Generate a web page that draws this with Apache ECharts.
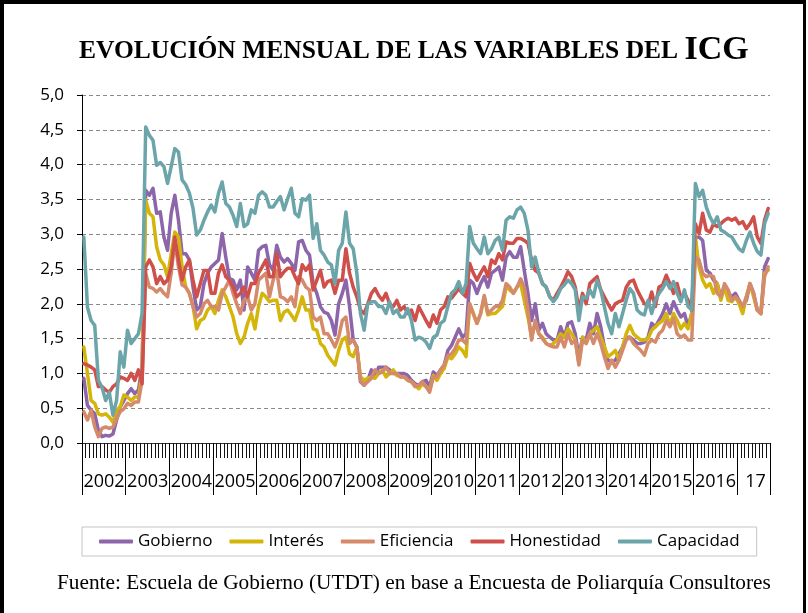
<!DOCTYPE html>
<html>
<head>
<meta charset="utf-8">
<script src="https://cdn.jsdelivr.net/npm/echarts@6/dist/echarts.min.js"></script>
<style>
  html, body { margin: 0; padding: 0; background: #fff; }
  #wrap { position: relative; width: 808px; height: 613px; overflow: hidden; }
  #chart { position: absolute; left: 0; top: 0; width: 808px; height: 613px; }
  #frame { position: absolute; left: 0; top: 0; width: 799px; height: 700px;
           border-left: 4px solid #000; border-top: 4px solid #000; border-right: 3px solid #000;
           pointer-events: none; }
</style>
</head>
<body>
<div id="wrap"><div id="chart"></div><div id="frame"></div></div>
<script>
// ---- Data (monthly, Jan 2002 – Sep 2017) ----
const startYear = 2002;
const monthCount = 189;
const yearLabels = ['2002','2003','2004','2005','2006','2007','2008','2009','2010','2011','2012','2013','2014','2015','2016','17'];
const yTicks = [0, 0.5, 1, 1.5, 2, 2.5, 3, 3.5, 4, 4.5, 5];
const seriesNames = ['Gobierno', 'Interés', 'Eficiencia', 'Honestidad', 'Capacidad'];

const gobierno = [
  0.93,0.54,0.47,0.42,0.18,0.09,0.11,0.10,0.13,0.33,0.52,0.61,
  0.71,0.78,0.71,0.76,1.09,3.63,3.56,3.66,3.30,3.32,2.96,2.77,
  3.30,3.56,3.20,2.72,2.72,2.63,2.24,1.91,1.96,2.29,2.44,2.53,
  2.58,2.63,3.01,2.67,2.36,2.34,2.20,2.34,1.91,2.53,2.44,2.34,
  2.77,2.82,2.84,2.56,2.48,2.84,2.67,2.60,2.65,2.58,2.48,2.89,
  2.91,2.77,2.70,2.29,2.15,1.96,1.88,1.86,1.76,1.55,2.00,2.15,
  2.34,1.96,1.48,1.38,0.88,0.83,0.90,1.05,0.95,1.09,1.09,1.09,
  1.05,1.00,1.00,1.00,1.00,0.97,0.90,0.85,0.83,0.88,0.90,0.81,
  1.02,0.97,1.05,1.12,1.33,1.40,1.52,1.64,1.52,1.57,2.34,2.29,
  2.15,2.29,2.39,2.24,2.44,2.48,2.53,2.34,2.67,2.75,2.67,2.67,
  2.82,2.48,2.15,1.76,2.00,1.62,1.72,1.57,1.52,1.48,1.48,1.67,
  1.52,1.72,1.74,1.57,1.24,1.52,1.48,1.72,1.57,1.86,1.67,1.38,
  1.19,1.16,1.19,1.28,1.38,1.52,1.52,1.48,1.43,1.43,1.45,1.52,
  1.72,1.67,1.76,1.86,2.00,1.86,2.03,1.91,1.81,1.86,1.67,1.86,
  2.95,2.96,2.91,2.48,2.44,2.34,2.29,2.10,2.24,2.15,2.10,2.15,
  2.05,1.96,2.05,2.29,2.15,1.91,1.86,2.53,2.65
];
const interes = [
  1.38,1.00,0.61,0.57,0.42,0.40,0.42,0.37,0.30,0.47,0.52,0.69,
  0.66,0.61,0.66,0.66,1.00,3.49,3.30,3.25,2.82,2.63,2.56,2.39,
  2.72,3.03,2.96,2.53,2.24,2.15,1.96,1.64,1.76,1.79,1.91,1.96,
  1.86,2.05,2.20,2.10,1.96,1.81,1.57,1.43,1.52,1.72,1.86,1.64,
  1.96,2.15,2.10,2.03,2.05,2.05,1.76,1.88,1.91,1.84,1.76,1.91,
  2.10,1.91,1.91,1.64,1.62,1.43,1.38,1.26,1.19,1.12,1.33,1.48,
  1.52,1.28,1.24,1.38,0.95,0.90,0.93,0.95,0.93,1.00,1.05,0.95,
  1.00,1.05,0.97,0.95,0.95,0.90,0.88,0.83,0.78,0.85,0.81,0.76,
  0.97,0.90,1.00,1.07,1.24,1.21,1.28,1.38,1.33,1.24,2.00,1.86,
  1.72,1.86,2.10,1.84,1.86,1.86,1.91,1.96,2.24,2.20,2.15,2.24,
  2.29,2.05,1.81,1.52,1.72,1.57,1.52,1.43,1.40,1.43,1.48,1.57,
  1.52,1.64,1.57,1.48,1.14,1.52,1.43,1.57,1.62,1.67,1.52,1.38,
  1.24,1.28,1.33,1.19,1.38,1.57,1.69,1.57,1.52,1.48,1.48,1.50,
  1.62,1.67,1.72,1.76,1.86,1.69,1.86,1.76,1.64,1.72,1.64,1.86,
  2.96,2.53,2.34,2.24,2.29,2.15,2.29,2.05,2.24,2.05,2.03,2.10,
  2.00,1.86,2.10,2.29,2.10,1.91,1.86,2.44,2.48
];
const eficiencia = [
  0.45,0.33,0.47,0.23,0.09,0.21,0.23,0.21,0.23,0.35,0.45,0.49,
  0.57,0.54,0.59,0.59,0.90,2.44,2.24,2.22,2.17,2.22,2.15,2.10,
  2.44,2.91,2.53,2.27,2.24,2.15,1.96,1.81,1.86,2.00,2.05,1.96,
  1.96,1.91,2.15,2.24,2.34,2.15,2.00,1.86,2.05,2.10,1.91,2.00,
  2.34,2.39,2.44,2.10,2.34,2.48,2.10,2.08,2.03,2.10,1.96,2.39,
  2.34,2.24,2.20,1.81,1.76,1.81,1.57,1.57,1.48,1.38,1.52,1.76,
  1.81,1.43,1.48,1.38,0.90,0.83,0.88,0.93,1.05,1.00,1.02,1.09,
  1.00,1.00,1.00,0.95,0.95,0.90,0.88,0.81,0.83,0.88,0.81,0.73,
  0.95,0.95,1.05,1.12,1.26,1.28,1.36,1.48,1.48,1.43,2.00,1.86,
  1.72,1.86,2.12,1.86,1.91,1.96,1.96,2.05,2.29,2.24,2.15,2.24,
  2.36,2.24,1.91,1.48,1.76,1.57,1.50,1.43,1.40,1.38,1.38,1.52,
  1.38,1.57,1.43,1.48,1.12,1.48,1.43,1.57,1.43,1.57,1.43,1.24,
  1.07,1.19,1.09,1.19,1.33,1.48,1.52,1.43,1.38,1.33,1.26,1.43,
  1.48,1.45,1.57,1.62,1.76,1.67,1.79,1.57,1.52,1.55,1.48,1.48,
  2.67,2.63,2.44,2.39,2.41,2.39,2.15,2.10,2.29,2.20,2.05,2.10,
  2.05,1.96,2.10,2.29,2.15,1.91,1.86,2.39,2.53
];
const honestidad = [
  1.14,1.12,1.09,1.05,0.81,0.81,0.76,0.73,0.81,0.85,0.95,0.93,
  0.90,1.00,0.90,1.05,0.85,2.53,2.63,2.53,2.29,2.39,2.29,2.34,
  2.53,2.96,2.63,2.34,2.53,2.63,2.34,2.10,2.29,2.48,2.48,2.15,
  2.15,2.44,2.56,2.39,2.34,2.24,2.10,2.15,2.24,2.10,2.29,2.29,
  2.44,2.53,2.63,2.39,2.39,2.72,2.39,2.46,2.51,2.51,2.39,2.29,
  2.56,2.48,2.56,2.20,2.34,2.48,2.24,2.32,2.34,2.15,2.34,2.34,
  2.79,2.44,2.24,2.10,1.91,1.86,2.00,2.15,2.22,2.12,2.05,2.15,
  2.00,1.96,2.05,1.91,1.96,1.86,1.91,1.76,1.96,1.86,1.76,1.67,
  1.84,1.72,1.91,1.96,2.10,2.08,2.15,2.22,2.15,2.10,2.58,2.44,
  2.34,2.44,2.53,2.39,2.63,2.58,2.72,2.63,2.89,2.87,2.87,2.94,
  2.94,2.91,2.87,2.63,2.48,2.44,2.29,2.24,2.10,2.05,2.15,2.24,
  2.34,2.46,2.39,2.24,1.91,2.15,2.00,2.29,2.34,2.39,2.20,2.10,
  2.00,1.91,2.00,2.03,2.05,2.24,2.32,2.34,2.20,2.10,2.00,1.98,
  2.17,1.96,2.24,2.27,2.41,2.29,2.15,2.29,2.08,2.15,2.05,1.91,
  3.15,3.01,3.30,3.06,3.03,3.15,3.11,3.15,3.20,3.23,3.20,3.23,
  3.15,3.18,3.08,3.15,3.25,2.96,2.87,3.20,3.37
];
const capacidad = [
  2.96,1.95,1.76,1.69,0.90,0.80,0.61,0.73,0.40,0.61,1.31,1.09,
  1.62,1.43,1.50,1.57,1.86,4.54,4.42,4.35,3.99,4.03,3.97,3.73,
  3.97,4.23,4.18,3.78,3.71,3.59,3.37,2.99,3.06,3.20,3.32,3.42,
  3.32,3.59,3.75,3.44,3.39,3.27,3.11,3.44,3.11,3.15,3.35,3.30,
  3.56,3.61,3.56,3.39,3.39,3.47,3.54,3.35,3.51,3.66,3.30,3.25,
  3.51,3.49,3.56,2.94,3.15,2.77,2.70,2.60,2.56,2.29,2.77,2.87,
  3.32,2.87,2.79,2.44,1.86,1.62,2.00,2.03,2.03,1.96,1.96,1.86,
  2.03,1.86,1.91,1.81,1.81,1.93,1.76,1.48,1.52,1.50,1.45,1.36,
  1.52,1.55,1.72,1.76,1.96,2.15,2.20,2.32,2.15,2.29,3.11,2.87,
  2.79,2.72,2.96,2.72,2.79,2.91,2.96,2.77,3.20,3.25,3.23,3.35,
  3.39,3.30,3.06,2.53,2.67,2.44,2.29,2.24,2.10,2.03,2.10,2.22,
  2.27,2.34,2.29,2.20,1.76,2.10,2.08,2.20,2.10,2.34,2.20,1.96,
  1.72,1.57,1.86,1.67,1.86,2.05,2.22,2.15,1.91,1.86,1.84,2.05,
  1.86,2.05,2.15,2.22,2.32,2.22,2.32,2.15,2.03,2.20,1.96,1.91,
  3.73,3.54,3.63,3.39,3.25,3.15,3.25,3.06,3.03,2.99,2.96,2.87,
  2.79,2.75,2.91,3.03,2.87,2.75,2.70,3.15,3.30
];
const seriesColors = ['#8C65AB', '#D4B50A', '#D58A6B', '#CF504A', '#6BA5AA'];

// ---- Build categories ----
const months = [];
for (let i = 0; i < monthCount; i++) {
  const y = startYear + Math.floor(i / 12);
  const m = (i % 12) + 1;
  months.push(y + '-' + (m < 10 ? '0' + m : m));
}
const allData = [gobierno, interes, eficiencia, honestidad, capacidad];

const chart = echarts.init(document.getElementById('chart'), null, { renderer: 'canvas' });
const option = {
  backgroundColor: '#fff',
  animation: false,
  textStyle: { fontFamily: 'Open Sans' },
  title: [
    {
      text: '{a|EVOLUCIÓN MENSUAL DE LAS VARIABLES DEL }{b|ICG}',
      left: 74, top: 28,
      textStyle: {
        rich: {
          a: { fontFamily: 'Liberation Serif', fontWeight: 'bold', fontSize: 25.5, color: '#000', lineHeight: 34, verticalAlign: 'bottom', padding: [0, 0, 3, 0] },
          b: { fontFamily: 'Liberation Serif', fontWeight: 'bold', fontSize: 34, color: '#000', lineHeight: 34, verticalAlign: 'bottom' }
        }
      }
    },
    {
      text: 'Fuente: Escuela de Gobierno (UTDT) en base a Encuesta de Poliarquía Consultores',
      left: 52, top: 568,
      textStyle: { fontFamily: 'Liberation Serif', fontWeight: 'normal', fontSize: 21.3, color: '#000' }
    }
  ],
  legend: {
    data: seriesNames,
    left: 82, top: 527,
    padding: [6, 17, 6, 17],
    itemGap: 17,
    itemWidth: 34, itemHeight: 4,
    icon: 'roundRect',
    borderColor: '#c4c4c4', borderWidth: 1,
    textStyle: { fontFamily: 'Open Sans', fontSize: 17, color: '#000' }
  },
  grid: { left: 82, right: 38, top: 95, bottom: 170, containLabel: false, outerBoundsMode: 'none' },
  xAxis: [
    {
      type: 'category', data: months, boundaryGap: true, position: 'bottom',
      axisLine: { show: true, lineStyle: { color: '#333', width: 1 } },
      axisTick: { show: true, interval: 0, length: 15, lineStyle: { color: '#111', width: 1 } },
      axisLabel: { show: false },
      splitLine: { show: false }
    },
    {
      type: 'category', data: months, boundaryGap: true, position: 'bottom', offset: 0,
      axisLine: { show: false },
      axisTick: { show: true, interval: (idx) => idx % 12 === 0, length: 52, lineStyle: { color: '#000', width: 1 } },
      axisLabel: {
        show: true,
        interval: (idx) => (idx < 180 ? idx % 12 === 5 : idx === 184),
        formatter: (v) => yearLabels[parseInt(v.slice(0, 4), 10) - startYear],
        margin: 30, padding: [0, 0, 0, 4],
        fontFamily: 'Open Sans', fontSize: 18, color: '#000'
      },
      splitLine: { show: false }
    }
  ],
  yAxis: {
    type: 'value', min: yTicks[0], max: yTicks[yTicks.length - 1], interval: 0.5,
    axisLine: { show: true, lineStyle: { color: '#000', width: 1 } },
    axisTick: { show: true, inside: false, length: 5, lineStyle: { color: '#000' } },
    axisLabel: {
      margin: 18, fontFamily: 'Open Sans', fontSize: 17, color: '#000',
      formatter: (v) => v.toFixed(1).replace('.', ',')
    },
    splitLine: { show: true, lineStyle: { color: '#8a8a8a', type: [4, 3], width: 1 } }
  },
  series: seriesNames.map((name, k) => ({
    name: name,
    type: 'line',
    xAxisIndex: 0,
    data: allData[k],
    symbol: 'none',
    smooth: false,
    color: seriesColors[k],
    lineStyle: { width: 3.5, color: seriesColors[k], cap: 'round', join: 'round' },
    z: 2 + k
  }))
};
chart.setOption(option);
</script>
</body>
</html>
